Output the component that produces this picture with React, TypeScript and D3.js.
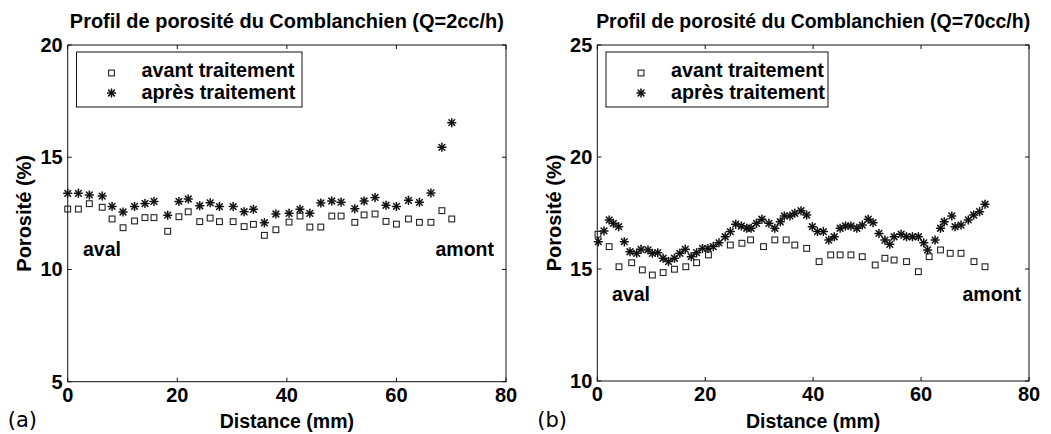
import React from "react";
import * as d3 from "d3";

// ---------- Data (a) Q = 2 cc/h ----------
const distA = [0, 1.95, 3.95, 6.3, 8.1, 10.1, 12.2, 14.1, 15.75, 18.25, 20.3, 22.0, 24.1, 26.0, 27.7, 30.2, 32.2, 33.9, 35.9, 38.0, 40.4, 42.4, 44.2, 46.2, 48.2, 49.9, 52.4, 54.1, 56.1, 58.1, 60.0, 62.2, 64.2, 66.3, 68.3, 70.1];
const avantA = [12.69, 12.69, 12.93, 12.77, 12.25, 11.86, 12.16, 12.31, 12.31, 11.7, 12.35, 12.57, 12.13, 12.29, 12.13, 12.13, 11.91, 12.01, 11.52, 11.77, 12.11, 12.38, 11.89, 11.89, 12.38, 12.38, 12.1, 12.43, 12.47, 12.14, 12.02, 12.25, 12.1, 12.1, 12.62, 12.25];
const apresA = [13.39, 13.39, 13.32, 13.27, 12.81, 12.56, 12.81, 12.94, 13.03, 12.42, 13.03, 13.14, 12.84, 12.97, 12.8, 12.8, 12.57, 12.68, 12.08, 12.47, 12.5, 12.68, 12.5, 12.96, 13.05, 13.0, 12.71, 13.05, 13.21, 12.86, 12.81, 13.08, 12.99, 13.41, 15.44, 16.54];

// ---------- Data (b) Q = 70 cc/h ----------
const distAvantB = [0.13, 2.2, 4.02, 6.37, 8.35, 10.2, 12.2, 14.3, 16.4, 18.4, 20.6, 24.65, 26.8, 28.4, 30.8, 32.9, 35.0, 36.6, 38.8, 41.1, 43.25, 45.0, 47.0, 49.1, 51.5, 53.3, 55.0, 57.3, 59.5, 61.5, 63.6, 65.4, 67.4, 69.8, 71.85];
const avantB = [16.55, 16.0, 15.1, 15.28, 14.96, 14.73, 14.84, 14.99, 15.1, 15.28, 15.63, 16.07, 16.15, 16.3, 16.0, 16.3, 16.3, 16.07, 15.92, 15.33, 15.63, 15.63, 15.63, 15.55, 15.18, 15.48, 15.4, 15.33, 14.88, 15.55, 15.85, 15.7, 15.7, 15.33, 15.1];
const distApresB = [0.19, 1.24, 2.2, 2.97, 3.96, 5.0, 6.06, 7.3, 8.1, 9.4, 10.2, 11.2, 12.2, 13.2, 14.3, 15.3, 16.3, 17.4, 18.4, 19.5, 20.5, 21.5, 22.55, 23.7, 24.65, 25.65, 26.7, 27.7, 28.5, 29.5, 30.5, 31.8, 32.9, 33.9, 34.66, 35.7, 36.6, 37.75, 38.8, 39.85, 40.8, 41.9, 42.9, 43.9, 45.0, 46.0, 47.0, 48.1, 49.1, 50.2, 51.1, 52.2, 53.3, 54.2, 55.0, 56.3, 57.3, 58.4, 59.5, 60.5, 61.2, 62.6, 63.6, 64.3, 65.7, 66.3, 67.4, 68.75, 69.75, 70.85, 71.85];
const apresB = [16.22, 16.7, 17.19, 17.04, 16.89, 16.22, 15.77, 15.7, 15.88, 15.85, 15.7, 15.73, 15.48, 15.33, 15.48, 15.7, 15.88, 15.55, 15.73, 15.92, 15.92, 16.0, 16.17, 16.44, 16.67, 17.0, 16.92, 16.82, 16.82, 17.04, 17.22, 17.04, 16.82, 17.11, 17.37, 17.37, 17.49, 17.6, 17.41, 16.89, 16.67, 16.67, 16.29, 16.44, 16.82, 16.92, 16.92, 16.82, 16.96, 17.22, 17.07, 16.59, 16.29, 16.1, 16.44, 16.55, 16.44, 16.44, 16.44, 16.17, 15.85, 16.29, 16.82, 17.11, 17.37, 16.89, 16.96, 17.19, 17.41, 17.56, 17.89];

const xTicks = [0, 20, 40, 60, 80];
const yTicksA = [5, 10, 15, 20];
const yTicksB = [10, 15, 20, 25];
const legendLabels = ["avant traitement", "après traitement"];

const FONT = "'Liberation Sans', Arial, Helvetica, sans-serif";

type PanelProps = {
  left: number; right: number; top: number; bottom: number;
  yDomain: [number, number]; yTicks: number[];
  avX: number[]; avY: number[]; apX: number[]; apY: number[];
  title: string; tag: string;
  legendLeft: number; legendRight: number;
  annotY: number; avalX: number; amontX: number;
  yLabelX: number;
};

function Star({ x, y }: { x: number; y: number }) {
  const r = 4;
  const d = r * 0.72;
  return (
    <g stroke="#111" strokeWidth={1.5} strokeLinecap="round">
      <line x1={x - r} y1={y} x2={x + r} y2={y} />
      <line x1={x} y1={y - r} x2={x} y2={y + r} />
      <line x1={x - d} y1={y - d} x2={x + d} y2={y + d} />
      <line x1={x - d} y1={y + d} x2={x + d} y2={y - d} />
    </g>
  );
}

function Square({ x, y }: { x: number; y: number }) {
  const s = 5.8;
  return <rect x={x - s / 2} y={y - s / 2} width={s} height={s} fill="none" stroke="#222" strokeWidth={1.1} />;
}

function Panel(p: PanelProps) {
  const xs = d3.scaleLinear().domain([0, 80]).range([p.left, p.right]);
  const ys = d3.scaleLinear().domain(p.yDomain).range([p.bottom, p.top]);
  const tl = 4;
  const cx = (p.left + p.right) / 2;
  return (
    <g fontFamily={FONT}>
      <text x={cx} y={28} textAnchor="middle" fontWeight="bold" fontSize={19.5} textLength={434} lengthAdjust="spacingAndGlyphs">{p.title}</text>
      <rect x={p.left} y={p.top} width={p.right - p.left} height={p.bottom - p.top} fill="none" stroke="#111" strokeWidth={1} />
      {xTicks.map((t) => (
        <g key={"x" + t}>
          <line x1={xs(t)} x2={xs(t)} y1={p.bottom} y2={p.bottom - tl} stroke="#111" />
          <line x1={xs(t)} x2={xs(t)} y1={p.top} y2={p.top + tl} stroke="#111" />
          <text x={xs(t)} y={p.bottom + 20} textAnchor="middle" fontWeight="bold" fontSize={20}>{t}</text>
        </g>
      ))}
      {p.yTicks.map((t) => (
        <g key={"y" + t}>
          <line x1={p.left} x2={p.left + tl} y1={ys(t)} y2={ys(t)} stroke="#111" />
          <line x1={p.right} x2={p.right - tl} y1={ys(t)} y2={ys(t)} stroke="#111" />
          <text x={p.left - 5} y={ys(t)} dy="0.35em" textAnchor="end" fontWeight="bold" fontSize={20}>{t}</text>
        </g>
      ))}
      <text x={cx} y={428} textAnchor="middle" fontWeight="bold" fontSize={19.5}>Distance (mm)</text>
      <text transform={`translate(${p.yLabelX},${(p.top + p.bottom) / 2}) rotate(-90)`} textAnchor="middle" fontWeight="bold" fontSize={20}>Porosité (%)</text>
      <text x={p.left - 60} y={427} fontSize={21} fontFamily="'DejaVu Sans', sans-serif">{p.tag}</text>
      <text x={p.avalX} y={p.annotY} fontWeight="bold" fontSize={19.5}>aval</text>
      <text x={p.amontX} y={p.annotY} textAnchor="end" fontWeight="bold" fontSize={19.5}>amont</text>
      {p.avX.map((d, i) => <Square key={"s" + i} x={xs(d)} y={ys(p.avY[i])} />)}
      {p.apX.map((d, i) => <Star key={"a" + i} x={xs(d)} y={ys(p.apY[i])} />)}
      <rect x={p.legendLeft} y={52} width={p.legendRight - p.legendLeft} height={55} fill="#fff" stroke="#111" strokeWidth={1} />
      <Square x={p.legendLeft + 35} y={73} />
      <Star x={p.legendLeft + 35} y={93} />
      <text x={p.legendLeft + 65} y={77} fontWeight="bold" fontSize={19.8}>{legendLabels[0]}</text>
      <text x={p.legendLeft + 65} y={99} fontWeight="bold" fontSize={19.8}>{legendLabels[1]}</text>
    </g>
  );
}

export default function App() {
  return (
    <svg width={1051} height={434} style={{ position: "absolute", left: 0, top: 0, background: "#fff" }}>
      <rect x={0} y={0} width={1051} height={434} fill="#fff" />
      <Panel left={67.7} right={506} top={45} bottom={381.7} yDomain={[5, 20]} yTicks={yTicksA}
        avX={distA} avY={avantA} apX={distA} apY={apresA}
        title="Profil de porosité du Comblanchien (Q=2cc/h)" tag="(a)"
        legendLeft={76.5} legendRight={302} annotY={256} avalX={83} amontX={494} yLabelX={31} />
      <Panel left={597.3} right={1029} top={45} bottom={381} yDomain={[10, 25]} yTicks={yTicksB}
        avX={distAvantB} avY={avantB} apX={distApresB} apY={apresB}
        title="Profil de porosité du Comblanchien (Q=70cc/h)" tag="(b)"
        legendLeft={606} legendRight={828} annotY={301} avalX={612} amontX={1021} yLabelX={561} />
    </svg>
  );
}
